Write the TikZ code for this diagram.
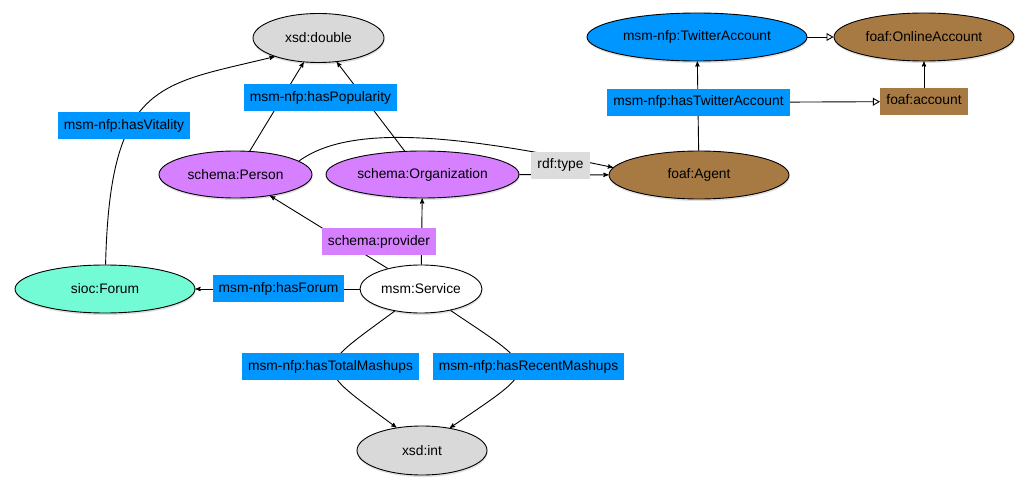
\documentclass[tikz,border=0pt]{standalone}
\usepackage{fontspec}
\setmainfont{Liberation Sans}
\usetikzlibrary{arrows,shapes.geometric,shadows}

\definecolor{xsdgray}{RGB}{217,217,217}
\definecolor{schemapurple}{RGB}{214,128,255}
\definecolor{nfpblue}{RGB}{0,150,255}
\definecolor{foafbrown}{RGB}{168,122,67}
\definecolor{siocgreen}{RGB}{115,251,214}
\definecolor{rdfgray}{RGB}{220,220,220}

\begin{document}
\begin{tikzpicture}[
        x=1pt, y=-1pt,
        >=stealth',
        line width=0.9pt,
        every node/.style={font=\fontsize{13.8}{16}\selectfont},
        class/.style={ellipse, draw=black, inner sep=0pt,
            drop shadow={shadow xshift=0.5pt, shadow yshift=-2pt, opacity=0.25}},
        prop/.style={rectangle, inner xsep=6pt, inner ysep=0pt, minimum height=27pt,
            text height=9.5pt, text depth=2.5pt}
        ]
            \useasboundingbox (0, 0) rectangle (1029, 492);
            %\draw[lightgray] (0, 0) grid[step=50] (1029, 492);
            \node[class, fill=xsdgray, minimum width=131pt, minimum height=49pt] (dbl) at (318.5, 38) {xsd:double};
            \node[class, fill=schemapurple, minimum width=153pt, minimum height=47pt] (person) at (235.5, 174.5) {schema:Person};
            \node[class, fill=schemapurple, minimum width=193pt, minimum height=47pt] (org) at (422.5, 174.5) {schema:Organization};
            \node[class, fill=siocgreen, minimum width=180pt, minimum height=48pt] (forum) at (105, 289) {sioc:Forum};
            \node[class, fill=white, minimum width=122pt, minimum height=48pt] (service) at (421, 289) {msm:Service};
            \node[class, fill=xsdgray, minimum width=130pt, minimum height=49pt] (int) at (422, 450.5) {xsd:int};
            \node[class, fill=nfpblue, minimum width=220pt, minimum height=48pt, inner xsep=-5pt] (twitter) at (697, 37) {msm-nfp:TwitterAccount};
            \node[class, fill=foafbrown, minimum width=180pt, minimum height=48pt] (online) at (924, 37) {foaf:OnlineAccount};
            \node[class, fill=foafbrown, minimum width=180pt, minimum height=48pt] (agent) at (699, 175) {foaf:Agent};
            
            \draw[->] (person) -- (dbl);
            \draw[->] (org) -- (dbl);
            \draw[->] (forum) .. controls (110, 80) and (160, 85) .. (dbl.203);
            
            \draw[->] (person.12) .. controls (350, 124) and (455, 134) .. (agent.175);
            \draw[->] (org) -- (agent);
            
            \draw[->] (service) -- (person);
            \draw[->] (service) -- (org);
            \draw[->] (service) -- (forum);
            
            \draw[->] (service.220) .. controls (312, 372) and (312, 365) .. (int.138);
            \draw[->] (service.324) .. controls (542, 372) and (542, 365) .. (int.39);
            
            \draw[->] (agent) -- (twitter);
            \draw[-open triangle 60] (twitter) -- (online);
            
            % property labels on top of the edges
            \node[prop, fill=nfpblue] (popul) at (320.5, 98) {msm-nfp:hasPopularity};
            \node[prop, fill=nfpblue] (vital) at (124, 126) {msm-nfp:hasVitality};
            \node[prop, fill=schemapurple] (prov) at (379, 241.5) {schema:provider};
            \node[prop, fill=nfpblue] (hforum) at (278.5, 288.5) {msm-nfp:hasForum};
            \node[prop, fill=nfpblue] (total) at (330.5, 366.5) {msm-nfp:hasTotalMashups};
            \node[prop, fill=nfpblue] (recent) at (528.5, 366.5) {msm-nfp:hasRecentMashups};
            \node[prop, fill=rdfgray] (rdftype) at (560.5, 165.5) {rdf:type};
            \node[prop, fill=nfpblue] (htw) at (698.5, 102.5) {msm-nfp:hasTwitterAccount};
            \node[prop, fill=foafbrown] (acct) at (924, 101.5) {foaf:account};
            
            \draw[-open triangle 60] (htw) -- (acct);
            \draw[->] (acct) -- (online);
        \end{tikzpicture}
\end{document}
